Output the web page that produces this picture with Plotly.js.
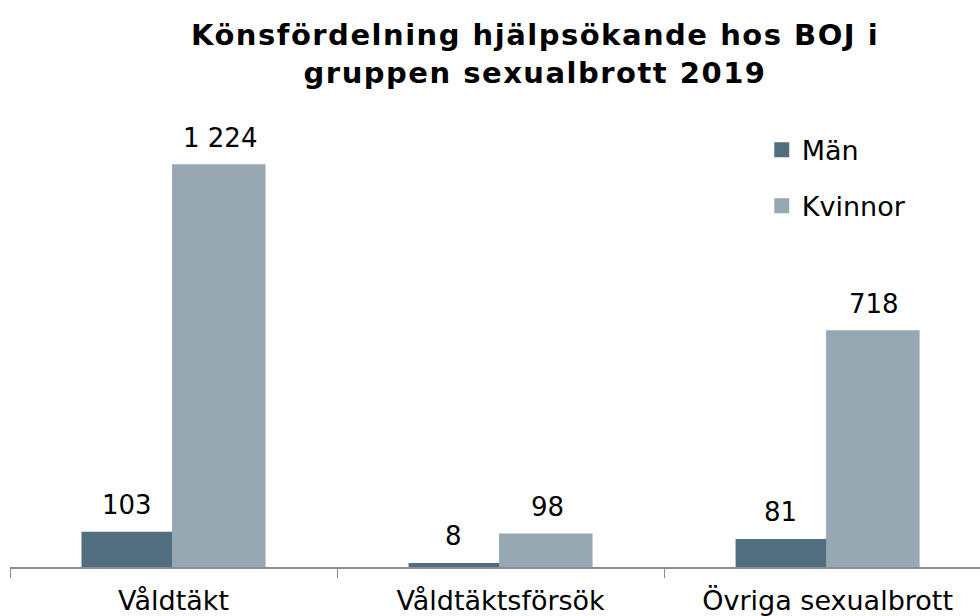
<!DOCTYPE html>
<html>
<head>
<meta charset="utf-8">
<script src="https://cdn.plot.ly/plotly-3.0.1.min.js"></script>
<style>
html,body{margin:0;padding:0;background:#fff}
#chart{width:980px;height:616px}
#chart .gtitle{letter-spacing:1.5px}
</style>
</head>
<body>
<div id="chart"></div>
<script>
var categories = ["Våldtäkt", "Våldtäktsförsök", "Övriga sexualbrott"];
var seriesNames = ["Män", "Kvinnor"];
var man = [103, 8, 81];
var kvinnor = [1224, 98, 718];
var titleText = "Könsfördelning hjälpsökande hos BOJ i<br>gruppen sexualbrott 2019";

var FONT = "DejaVu Sans, Verdana, sans-serif";
var colors = ["#506e80", "#97a8b3"];

function fmt(v) { return String(v).replace(/\B(?=(\d{3})+(?!\d))/g, " "); }

var traces = [man, kvinnor].map(function (vals, i) {
  return {
    type: "bar",
    name: seriesNames[i],
    x: categories,
    y: vals,
    marker: { color: colors[i], line: { color: colors[i], width: 3 } },
    legendgroup: "g" + i,
    hoverinfo: "none"
  };
});

var annotations = [];
var barPx = 93.5;
[man, kvinnor].forEach(function (vals, i) {
  vals.forEach(function (v, j) {
    annotations.push({
      x: categories[j], y: v, xref: "x", yref: "y",
      text: fmt(v), showarrow: false,
      xanchor: "center", yanchor: "bottom",
      xshift: (i === 0 ? -1 : 1) * barPx / 2,
      yshift: 11,
      font: { family: FONT, size: 26, color: "#000" }
    });
  });
});

var layout = {
  width: 980, height: 616,
  margin: { l: 10, r: 0, t: 100, b: 49, autoexpand: false },
  paper_bgcolor: "#fff", plot_bgcolor: "#fff",
  font: { family: FONT, color: "#000" },
  title: {
    text: titleText,
    font: { family: FONT, size: 29, weight: "bold", color: "#000" },
    xref: "container", x: 0.546, xanchor: "center",
    yref: "container", y: 0.927, yanchor: "top"
  },
  barmode: "group",
  bargap: 0.4465,
  bargroupgap: 0,
  showlegend: true,
  legend: {
    x: 0.775, xanchor: "left", y: 0.945, yanchor: "top",
    xref: "paper", yref: "paper",
    font: { family: FONT, size: 27, color: "#000" },
    traceorder: "grouped", tracegroupgap: 18,
    bgcolor: "rgba(0,0,0,0)", itemwidth: 30
  },
  xaxis: {
    type: "category",
    range: [-0.5, 2.466],
    tickson: "boundaries",
    ticks: "outside", ticklen: 9, tickcolor: "#8c8c8c", tickwidth: 1,
    showline: true, linecolor: "#8c8c8c", linewidth: 2,
    showgrid: false, zeroline: false,
    ticklabelstandoff: 9,
    tickfont: { family: FONT, size: 27, color: "#000" },
    fixedrange: true
  },
  yaxis: {
    range: [0, 1425],
    visible: false, showgrid: false, zeroline: false, fixedrange: true
  },
  annotations: annotations
};

Plotly.newPlot("chart", traces, layout, { displayModeBar: false, staticPlot: true });
</script>
</body>
</html>
